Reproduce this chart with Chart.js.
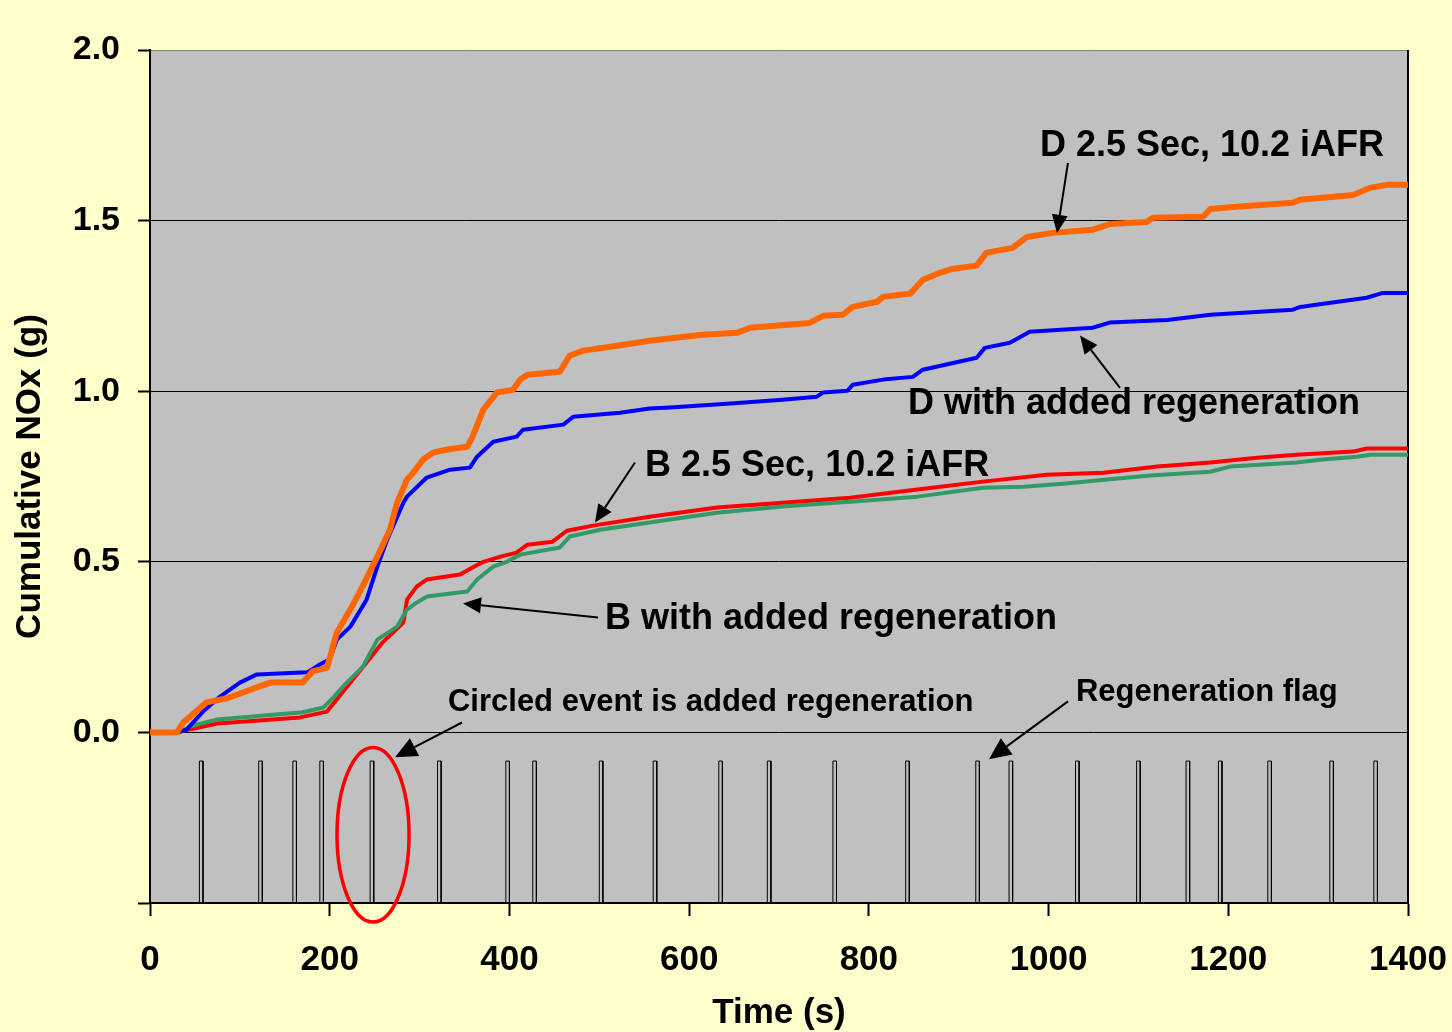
<!DOCTYPE html>
<html>
<head>
<meta charset="utf-8">
<title>Cumulative NOx</title>
<script src="https://cdn.jsdelivr.net/npm/chart.js@4/dist/chart.umd.min.js"></script>
<style>
html, body { margin: 0; padding: 0; background: #FFFFCC; }
#wrap { width: 1452px; height: 1032px; }
</style>
</head>
<body>
<div id="wrap"><canvas id="c" width="1452" height="1032"></canvas></div>
<script>
// D 2.5 Sec, 10.2 iAFR
const timeD = [0,30,37,63,86,122,134,170,181,197,208,223,237,253,267,275,286,293,304,315,331,353,359,371,386,404,412,420,456,467,482,520,556,612,653,668,734,749,771,782,809,816,846,860,879,894,920,931,960,976,1005,1049,1068,1109,1116,1172,1180,1205,1272,1280,1339,1358,1377,1400];
const noxD  = [0,0,0.029,0.088,0.10,0.135,0.146,0.146,0.179,0.19,0.293,0.36,0.43,0.515,0.594,0.673,0.741,0.761,0.80,0.82,0.829,0.837,0.867,0.946,0.996,1.004,1.034,1.048,1.057,1.104,1.119,1.133,1.148,1.165,1.171,1.186,1.20,1.221,1.224,1.247,1.262,1.277,1.286,1.326,1.347,1.359,1.368,1.406,1.42,1.452,1.464,1.473,1.49,1.496,1.508,1.511,1.534,1.54,1.552,1.561,1.575,1.596,1.605,1.605];

// D with added regeneration
const timeDR = [0,30,41,59,78,100,119,175,189,200,208,223,241,253,264,282,286,308,334,356,364,382,408,415,460,471,523,556,579,642,704,742,749,776,782,816,849,860,920,929,957,979,1049,1068,1132,1180,1272,1280,1354,1372,1400];
const noxDR  = [0,0,0.009,0.061,0.105,0.146,0.170,0.176,0.199,0.214,0.272,0.31,0.389,0.486,0.565,0.673,0.691,0.747,0.77,0.776,0.808,0.852,0.867,0.887,0.902,0.925,0.937,0.949,0.952,0.963,0.975,0.984,0.996,1.001,1.019,1.034,1.042,1.063,1.098,1.127,1.142,1.174,1.186,1.201,1.209,1.224,1.239,1.247,1.274,1.288,1.288];

// B 2.5 Sec, 10.2 iAFR
const timeB = [0,26,45,75,106,167,197,208,223,241,259,282,286,297,308,345,359,371,390,408,420,448,464,493,556,631,704,779,854,927,998,1061,1121,1180,1232,1276,1339,1354,1400];
const noxB  = [0,0,0.009,0.026,0.032,0.044,0.061,0.097,0.146,0.205,0.264,0.322,0.389,0.428,0.448,0.463,0.483,0.50,0.515,0.527,0.55,0.559,0.591,0.606,0.632,0.659,0.673,0.688,0.712,0.735,0.755,0.761,0.779,0.791,0.805,0.814,0.823,0.832,0.832];

// B with added regeneration
const timeBR = [0,33,45,75,130,170,193,204,215,237,253,275,286,297,308,353,364,382,397,412,456,467,501,556,631,704,779,854,927,972,1016,1065,1113,1180,1202,1276,1305,1343,1358,1400];
const noxBR  = [0,0,0.018,0.038,0.05,0.059,0.073,0.102,0.135,0.193,0.272,0.31,0.36,0.381,0.398,0.413,0.448,0.486,0.50,0.521,0.542,0.574,0.594,0.615,0.644,0.662,0.676,0.691,0.717,0.72,0.729,0.741,0.753,0.764,0.779,0.791,0.80,0.808,0.814,0.814];

// Regeneration flag events (s) and the flag signal levels
const flagTimes = [57,123,161,191,247,322,398,428,502,562,635,689,762,843,921,958,1032,1100,1155,1191,1246,1315,1364];
const flagOff = -0.5;
const flagOn = -0.084;
const flagHalfWidth = 2;

// Axis ticks
const xTicks = [0,200,400,600,800,1000,1200,1400];
const yTicks = [-0.5,0,0.5,1.0,1.5,2.0];

const FAMILY = '"Liberation Sans", Arial, Helvetica, sans-serif';

const pairs = (xs, ys) => xs.map((x, i) => ({ x: x, y: ys[i] }));

function flagSeries() {
  const pts = [{ x: 0, y: flagOff }];
  flagTimes.forEach(t => {
    pts.push({ x: t - flagHalfWidth, y: flagOff });
    pts.push({ x: t - flagHalfWidth, y: flagOn });
    pts.push({ x: t + flagHalfWidth, y: flagOn });
    pts.push({ x: t + flagHalfWidth, y: flagOff });
  });
  pts.push({ x: 1400, y: flagOff });
  return pts;
}

// Callout texts and arrows, placed in data units
const notes = [
  { text: 'D 2.5 Sec, 10.2 iAFR', x: 990.4, y: 1.719, size: 36 },
  { text: 'D with added regeneration', x: 843.6, y: 0.963, size: 36 },
  { text: 'B 2.5 Sec, 10.2 iAFR', x: 550.9, y: 0.782, size: 36 },
  { text: 'B with added regeneration', x: 506.4, y: 0.331, size: 36 },
  { text: 'Circled event is added regeneration', x: 331.6, y: 0.088, size: 31 },
  { text: 'Regeneration flag', x: 1030.5, y: 0.117, size: 31 }
];
const arrows = [
  { from: [1021.6, 1.669], to: [1009.4, 1.464], len: 18, half: 8 },
  { from: [1079.5, 1.010], to: [1035.0, 1.163], len: 18, half: 8 },
  { from: [539.7, 0.791],  to: [495.2, 0.615],  len: 18, half: 8 },
  { from: [498.6, 0.337],  to: [348.3, 0.378],  len: 18, half: 8 },
  { from: [347.2, 0.029],  to: [272.7, -0.073], len: 22, half: 10 },
  { from: [1021.6, 0.091], to: [933.7, -0.079], len: 22, half: 10 }
];
const circled = { x: 248.2, y: -0.300, rx: 40.1, ry: 0.256 };

const backdrop = {
  id: 'backdrop',
  beforeDraw(chart) {
    const { ctx, chartArea: a } = chart;
    ctx.save();
    ctx.fillStyle = '#FFFFCC';
    ctx.fillRect(0, 0, chart.width, chart.height);
    ctx.fillStyle = '#C0C0C0';
    ctx.fillRect(a.left, a.top, a.right - a.left, a.bottom - a.top);
    ctx.restore();
  },
  beforeDatasetsDraw(chart) {
    const { ctx, chartArea: a } = chart;
    ctx.save();
    ctx.strokeStyle = '#000';
    ctx.lineWidth = 2;
    ctx.beginPath();
    ctx.moveTo(a.right, a.top);
    ctx.lineTo(a.right, a.bottom);
    ctx.stroke();
    ctx.restore();
  }
};

function drawArrow(ctx, x1, y1, x2, y2, len, half) {
  const ang = Math.atan2(y2 - y1, x2 - x1);
  const bx = x2 - len * Math.cos(ang), by = y2 - len * Math.sin(ang);
  ctx.beginPath();
  ctx.moveTo(x1, y1);
  ctx.lineTo(bx, by);
  ctx.stroke();
  ctx.beginPath();
  ctx.moveTo(x2, y2);
  ctx.lineTo(bx + half * Math.sin(ang), by - half * Math.cos(ang));
  ctx.lineTo(bx - half * Math.sin(ang), by + half * Math.cos(ang));
  ctx.closePath();
  ctx.fill();
}

const callouts = {
  id: 'callouts',
  afterDraw(chart) {
    const { ctx } = chart;
    const sx = chart.scales.x, sy = chart.scales.y;
    ctx.save();
    ctx.fillStyle = '#000';
    ctx.strokeStyle = '#000';
    ctx.lineWidth = 2;
    arrows.forEach(a => {
      drawArrow(ctx,
        sx.getPixelForValue(a.from[0]), sy.getPixelForValue(a.from[1]),
        sx.getPixelForValue(a.to[0]), sy.getPixelForValue(a.to[1]),
        a.len, a.half);
    });
    ctx.textAlign = 'left';
    ctx.textBaseline = 'middle';
    notes.forEach(n => {
      ctx.font = 'bold ' + n.size + 'px ' + FAMILY;
      ctx.fillText(n.text, sx.getPixelForValue(n.x), sy.getPixelForValue(n.y));
    });
    // ring around the added regeneration event
    const cx = sx.getPixelForValue(circled.x);
    const cy = sy.getPixelForValue(circled.y);
    const rx = Math.abs(sx.getPixelForValue(circled.x + circled.rx) - cx);
    const ry = Math.abs(sy.getPixelForValue(circled.y + circled.ry) - cy);
    ctx.strokeStyle = '#FF0000';
    ctx.lineWidth = 3.5;
    ctx.beginPath();
    ctx.ellipse(cx, cy, rx, ry, 0, 0, Math.PI * 2);
    ctx.stroke();
    ctx.restore();
  }
};

const line = (label, data, color, width) => ({
  label: label,
  data: data,
  borderColor: color,
  borderWidth: width,
  pointRadius: 0,
  fill: false,
  tension: 0,
  borderJoinStyle: 'round',
  borderCapStyle: 'butt'
});

new Chart(document.getElementById('c'), {
  type: 'line',
  data: {
    datasets: [
      line('D 2.5 Sec, 10.2 iAFR', pairs(timeD, noxD), '#FF6600', 6),
      line('D with added regeneration', pairs(timeDR, noxDR), '#0000FF', 4),
      line('B with added regeneration', pairs(timeBR, noxBR), '#339966', 4),
      line('B 2.5 Sec, 10.2 iAFR', pairs(timeB, noxB), '#FF0000', 4),
      line('Regeneration flag', flagSeries(), '#000000', 1)
    ]
  },
  options: {
    responsive: false,
    animation: false,
    events: [],
    layout: { padding: { top: 50, right: 44, bottom: 0, left: 0 } },
    plugins: { legend: { display: false }, tooltip: { enabled: false } },
    scales: {
      x: {
        type: 'linear',
        min: 0,
        max: 1400,
        afterFit(scale) {
          scale.height = 129;
          scale.paddingLeft = 0;
          scale.paddingRight = 0;
        },
        afterBuildTicks(scale) { scale.ticks = xTicks.map(v => ({ value: v })); },
        border: { display: true, color: '#000', width: 2 },
        grid: { drawOnChartArea: false, drawTicks: true, tickLength: 13, tickWidth: 2, tickColor: '#000' },
        ticks: {
          color: '#000',
          padding: 23,
          maxRotation: 0,
          font: { family: FAMILY, size: 35, weight: 'bold' },
          callback: v => String(v)
        },
        title: {
          display: true,
          text: 'Time (s)',
          color: '#000',
          padding: { top: 0, bottom: 0 },
          font: { family: FAMILY, size: 35, weight: 'bold', lineHeight: 1.04 }
        }
      },
      y: {
        type: 'linear',
        min: -0.5,
        max: 2.0,
        afterFit(scale) {
          scale.width = 150;
          scale.paddingTop = 0;
          scale.paddingBottom = 0;
        },
        afterBuildTicks(scale) { scale.ticks = yTicks.map(v => ({ value: v })); },
        border: { display: true, color: '#000', width: 2 },
        grid: {
          drawOnChartArea: true,
          drawTicks: true,
          tickLength: 12,
          tickWidth: 2,
          tickColor: '#000',
          lineWidth: 1,
          color: c => (c.tick && c.tick.value === 2 ? '#808080' : '#000000')
        },
        ticks: {
          color: '#000',
          padding: 18,
          font: { family: FAMILY, size: 34, weight: 'bold' },
          callback: v => (v < -0.25 ? '' : Number(v).toFixed(1))
        },
        title: {
          display: true,
          text: 'Cumulative NOx (g)',
          color: '#000',
          padding: { top: 10, bottom: 0 },
          font: { family: FAMILY, size: 35, weight: 'bold', lineHeight: 1.14 }
        }
      }
    }
  },
  plugins: [backdrop, callouts]
});
</script>
</body>
</html>
